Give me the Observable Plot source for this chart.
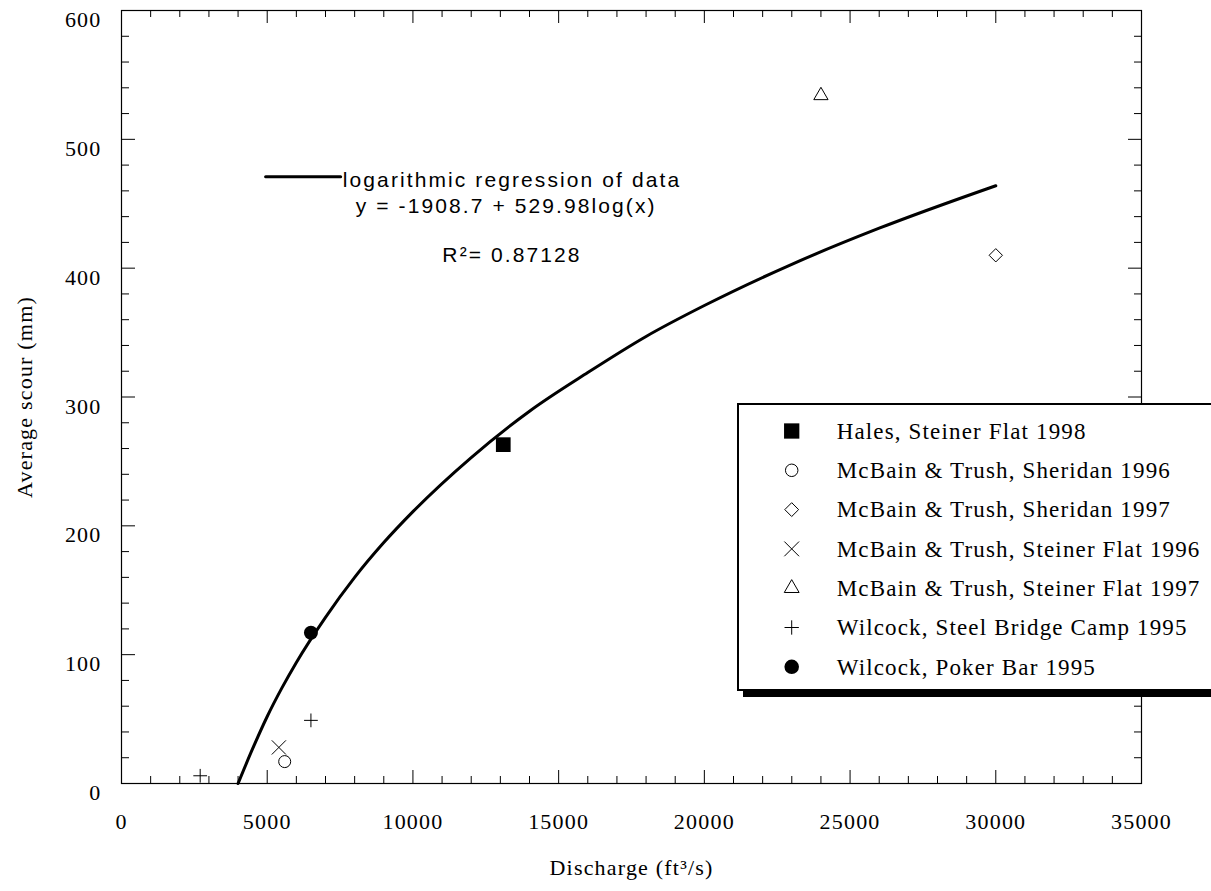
<!DOCTYPE html>
<html>
<head>
<meta charset="utf-8">
<script src="https://cdn.jsdelivr.net/npm/d3@7"></script>
<script src="https://cdn.jsdelivr.net/npm/@observablehq/plot@0.6"></script>
<style>
  html, body { margin: 0; padding: 0; background: #fff; overflow: hidden; }
  #wrap { position: relative; width: 1211px; height: 891px; overflow: hidden; }
  #wrap svg text { letter-spacing: 1.2px; }
  #wrap svg g[font-family="Liberation Sans"] text { letter-spacing: 2.1px; }
  #legend { position: absolute; left: 737px; top: 403px; width: 540px; height: 288px;
            box-sizing: border-box; border: 2px solid #000; background: #fff;
            box-shadow: 6px 6px 0 #000; }
  #legend svg text { letter-spacing: 1.15px; }
</style>
</head>
<body>
<div id="wrap"></div>
<script>
// ---- data ----
const seriesNames = [
  "Hales, Steiner Flat 1998",
  "McBain & Trush, Sheridan 1996",
  "McBain & Trush, Sheridan 1997",
  "McBain & Trush, Steiner Flat 1996",
  "McBain & Trush, Steiner Flat 1997",
  "Wilcock, Steel Bridge Camp 1995",
  "Wilcock, Poker Bar 1995"
];
const pointSeries = [0, 1, 2, 3, 4, 5, 5, 6];
const discharge   = [13100, 5600, 30000, 5400, 24000, 2700, 6500, 6500];
const scour       = [263, 17, 410, 28, 534, 6, 49, 117];

// logarithmic regression curve
const fitDischarge = [4000, 4500, 5000, 5500, 6000, 7000, 8000, 9000, 10000, 12000, 14000, 16000, 18000, 20000, 23000, 26000, 30000];
const fitScour     = [0, 27, 52, 74, 94, 129, 160, 187, 211, 253, 289, 319, 347, 371, 403, 431, 464];

const xTicks = [0, 5000, 10000, 15000, 20000, 25000, 30000, 35000];
const yTicks = [0, 100, 200, 300, 400, 500, 600];

const annotationText = ["logarithmic regression of data", "y = -1908.7 + 529.98log(x)", "R\u00B2= 0.87128"];
const annotationX = [13400, 13200, 13400];
const annotationY = [468, 448, 410];
const keyLineX = [4945, 7520];
const keyLineY = [471, 471];

// ---- styles (by series index) ----
const seriesSymbol = ["square", "circle", "diamond2", "times", "triangle", "plus", "circle"];
const seriesFilled = [true, false, false, false, false, false, true];
const seriesR      = [8.3, 6, 6, 6.5, 5.3, 4.5, 7];

// ---- build tables ----
const points = discharge.map((d, i) => ({x: d, y: scour[i], s: pointSeries[i]}));
const fit = fitDischarge.map((d, i) => ({x: d, y: fitScour[i]}));
const notes = annotationText.map((t, i) => ({t, x: annotationX[i], y: annotationY[i]}));
const keyLine = keyLineX.map((d, i) => ({x: d, y: keyLineY[i]}));

const xMinor = d3.range(0, 35001, 1000).filter(v => v % 5000 !== 0);
const yMinor = d3.range(0, 601, 20).filter(v => v % 100 !== 0);

const W = 1211, H = 891, mL = 121, mR = 70, mT = 10, mB = 108;
const pw = W - mL - mR, ph = H - mT - mB;
const maj = 13, mnr = 7;

const dotMarks = seriesNames.map((name, s) => Plot.dot(points.filter(p => p.s === s), {
  x: "x", y: "y", symbol: seriesSymbol[s], r: seriesR[s],
  fill: seriesFilled[s] ? "black" : "none",
  stroke: seriesFilled[s] ? "none" : "black", strokeWidth: 1
}));

const chart = Plot.plot({
  width: W, height: H,
  marginLeft: mL, marginRight: mR, marginTop: mT, marginBottom: mB,
  x: {domain: [0, 35000], label: null},
  y: {domain: [0, 600], label: null},
  style: {fontFamily: "Liberation Serif", background: "#fff", color: "#000", overflow: "visible"},
  marks: [
    // ticks (inward, all four sides)
    Plot.tickX(xTicks, {x: d => d, insetTop: ph - maj, stroke: "#000"}),
    Plot.tickX(xMinor, {x: d => d, insetTop: ph - mnr, stroke: "#000"}),
    Plot.tickX(xTicks, {x: d => d, insetBottom: ph - maj, stroke: "#000"}),
    Plot.tickX(xMinor, {x: d => d, insetBottom: ph - mnr, stroke: "#000"}),
    Plot.tickY(yTicks, {y: d => d, insetRight: pw - maj - 1, stroke: "#000"}),
    Plot.tickY(yMinor, {y: d => d, insetRight: pw - mnr - 1, stroke: "#000"}),
    Plot.tickY(yTicks, {y: d => d, insetLeft: pw - maj, stroke: "#000"}),
    Plot.tickY(yMinor, {y: d => d, insetLeft: pw - mnr, stroke: "#000"}),
    Plot.frame({stroke: "#000", strokeWidth: 1.2}),
    Plot.axisX({ticks: xTicks, tickSize: 0, tickPadding: 30, tickFormat: d => String(d), fontSize: 22, label: null}),
    Plot.axisY({ticks: yTicks, tickSize: 0, tickPadding: 20, tickFormat: d => String(d), fontSize: 22, dy: 9.5, label: null}),
    Plot.text(["Discharge (ft\u00B3/s)"], {frameAnchor: "bottom", lineAnchor: "middle", dy: 84, fontSize: 22}),
    Plot.text(["Average scour (mm)"], {frameAnchor: "left", textAnchor: "middle", lineAnchor: "middle", rotate: -90, dx: -97, fontSize: 22}),
    // regression curve
    Plot.line(fit, {x: "x", y: "y", stroke: "#000", strokeWidth: 3, curve: "monotone-x"}),
    // annotation
    Plot.line(keyLine, {x: "x", y: "y", stroke: "#000", strokeWidth: 3}),
    Plot.text(notes, {x: "x", y: "y", text: "t", textAnchor: "middle", fontFamily: "Liberation Sans", fontSize: 21}),
    ...dotMarks
  ]
});
document.getElementById("wrap").appendChild(chart);

// ---- legend (HTML overlay with d3 symbols) ----
const symbolMap = {square: d3.symbolSquare, circle: d3.symbolCircle, diamond2: d3.symbolDiamond2,
                   times: d3.symbolTimes, triangle: d3.symbolTriangle, plus: d3.symbolPlus};
const legend = document.createElement("div");
legend.id = "legend";
const lsvg = d3.create("svg").attr("width", 536).attr("height", 284);
seriesNames.forEach((name, s) => {
  const cy = 26 + 39.3 * s;
  const r = seriesR[s] * 1.04;
  lsvg.append("path")
    .attr("transform", `translate(52.7,${cy})`)
    .attr("d", d3.symbol(symbolMap[seriesSymbol[s]], Math.PI * r * r)())
    .attr("fill", seriesFilled[s] ? "#000" : "none")
    .attr("stroke", seriesFilled[s] ? "none" : "#000")
    .attr("stroke-width", 1);
  lsvg.append("text")
    .attr("x", 97.7).attr("y", cy + 7.7)
    .attr("font-family", "Liberation Serif").attr("font-size", 23)
    .attr("fill", "#000")
    .text(name);
});
legend.appendChild(lsvg.node());
document.getElementById("wrap").appendChild(legend);
</script>
</body>
</html>
